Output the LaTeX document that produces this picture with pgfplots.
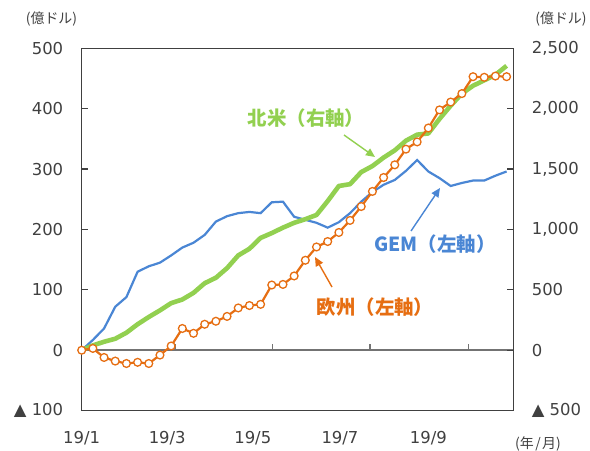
\documentclass[border=0pt]{standalone}
\usepackage{pgfplots}
\usepackage{pgfplotstable}
\pgfplotsset{compat=1.18}
\usepackage{fontspec}
\setmainfont{DejaVu Sans}
\newfontfamily\jp{Noto Sans CJK JP}
\usetikzlibrary{arrows.meta}
\definecolor{cblue}{RGB}{74,134,212}
\definecolor{cgreen}{RGB}{146,208,80}
\definecolor{corange}{RGB}{230,110,18}
\definecolor{cframe}{RGB}{64,64,64}
\definecolor{ctext}{RGB}{64,64,64}
\newcommand{\tl}[1]{\mbox{#1}}

\pgfplotstableread{
i gem eu
0 0 0
1 17 3
2 36 -12
3 72 -18
4 88 -22
5 130 -20
6 139 -22
7 145 -8
8 157 7
9 170 36
10 178 28
11 191 43
12 213 48
13 222 56
14 227 70
15 229 74
16 227 76
17 245 108
18 246 109
19 221 123
20 216 149
21 211 171
22 203 180
23 212 195
24 227 215
25 246 238
26 262 263
27 274 286
28 282 307
29 297 333
30 315 345
31 296 368
32 285 398
33 272 411
34 277 425
35 281 453
36 281 452
37 289 454
38 296 453
}\leftdata

\pgfplotstableread{
i na
0 0
1 40
2 70
3 95
4 145
5 215
6 275
7 330
8 390
9 420
10 475
11 555
12 600
13 680
14 785
15 840
16 930
17 970
18 1015
19 1055
20 1085
21 1120
22 1235
23 1360
24 1375
25 1475
26 1525
27 1595
28 1655
29 1735
30 1785
31 1795
32 1915
33 2025
34 2125
35 2190
36 2235
37 2280
38 2355
}\rightdata

\begin{document}
\begin{tikzpicture}
\useasboundingbox (0,0) rectangle (590bp,-451bp);
\pgfplotsset{
  common/.style={
    width=431.6bp, height=362.3bp, scale only axis,
    at={(81.7bp,-410.6bp)}, anchor=south west,
    xmin=0, xmax=38.6, clip=false,
    ticklabel style={font=\fontsize{16.5}{16.5}\selectfont, text=ctext},
    axis line style={draw=cframe, line width=1.5bp},
  }
}
% axis 1: frame, left ticks, x labels, GEM
\begin{axis}[common,
  ymin=-100, ymax=500,
  ytick={-100,0,100,200,300,400,500},
  yticklabels={\tl{▲ 100},\tl{0},\tl{100},\tl{200},\tl{300},\tl{400},\tl{500}},
  ytick pos=left,
  y tick style={draw=cframe, line width=1.2bp},
  major tick length=6bp,
  yticklabel style={anchor=east, xshift=-15bp},
  xtick={0,7.65,15.3,23.1,31.0},
  xticklabels={\tl{19/1},\tl{19/3},\tl{19/5},\tl{19/7},\tl{19/9}},
  x tick style={draw=none},
  xticklabel style={anchor=north, yshift=-17bp},
]
\draw[draw=black!55, line width=1.5bp] (axis cs:0,0) -- (axis cs:38.6,0);
\draw[draw=black!55, line width=1.2bp] (axis cs:8.35,0) -- (axis cs:8.35,10);
\draw[draw=black!55, line width=1.2bp] (axis cs:17.08,0) -- (axis cs:17.08,10);
\draw[draw=black!55, line width=1.2bp] (axis cs:25.79,0) -- (axis cs:25.79,10);
\draw[draw=black!55, line width=1.2bp] (axis cs:34.58,0) -- (axis cs:34.58,10);
\addplot[cblue, line width=2.2bp, no markers] table[x=i, y=gem] {\leftdata};
\end{axis}
% axis 2: right axis, North America
\begin{axis}[common,
  ymin=-500, ymax=2500,
  axis x line=none,
  axis y line*=right,
  ytick={-500,0,500,1000,1500,2000,2500},
  yticklabels={\tl{▲ 500},\tl{0},\tl{500},\tl{1,000},\tl{1,500},\tl{2,000},\tl{2,500}},
  y tick style={draw=cframe, line width=1.2bp},
  major tick length=6bp,
  yticklabel style={anchor=west, xshift=15bp},
]
\addplot[cgreen, line width=4.6bp, no markers, line join=round] table[x=i, y=na] {\rightdata};
\end{axis}
% axis 3: Europe on left scale
\begin{axis}[common,
  ymin=-100, ymax=500,
  hide axis,
]
\addplot[corange, line width=2.2bp, mark=*, mark size=3.9bp,
  mark options={fill=white, draw=corange, line width=1.3bp}] table[x=i, y=eu] {\leftdata};
\end{axis}

% annotations
\node[font=\jp\bfseries\fontsize{19.5}{19.5}\selectfont, text=cgreen] at (306bp,-118bp) {北米（右軸）};
\draw[cgreen, line width=1.4bp, -{Triangle[length=9bp,width=8bp]}] (344bp,-135bp) -- (375bp,-157bp);
\node[font=\jp\bfseries\fontsize{19.5}{19.5}\selectfont, text=cblue] at (435bp,-244bp) {GEM（左軸）};
\draw[cblue, line width=1.4bp, -{Triangle[length=9bp,width=8bp]}] (411bp,-231bp) -- (440bp,-188bp);
\node[font=\jp\bfseries\fontsize{19.5}{19.5}\selectfont, text=corange] at (375bp,-307bp) {欧州（左軸）};
\draw[corange, line width=1.4bp, -{Triangle[length=9bp,width=8bp]}] (332bp,-287bp) -- (315bp,-257bp);

\node[inner sep=0pt, font=\jp\fontsize{14}{14}\selectfont, text=ctext] at (51.5bp,-19.5bp) {(億ドル)};
\node[inner sep=0pt, font=\jp\fontsize{14}{14}\selectfont, text=ctext] at (561bp,-19.5bp) {(億ドル)};
\node[inner sep=0pt, font=\jp\fontsize{14}{14}\selectfont, text=ctext] at (538bp,-444bp) {(年\kern0.1em/\kern0.1em 月)};
\end{tikzpicture}
\end{document}
